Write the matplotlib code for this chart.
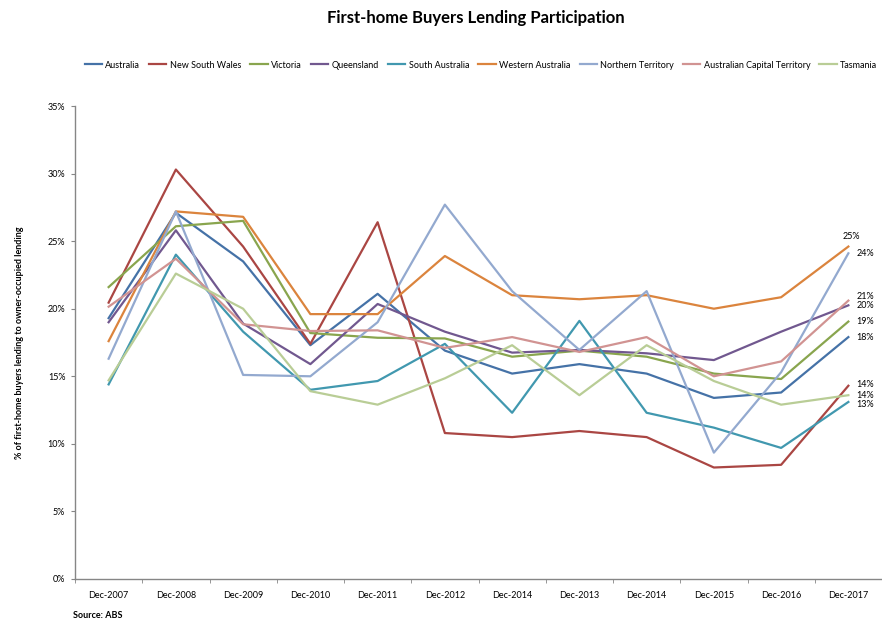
import matplotlib
matplotlib.use("Agg")
import matplotlib.pyplot as plt

plt.rcParams["font.family"] = ["Lato", "DejaVu Sans"]

# data (share of owner-occupied lending, %)
periods = ["Dec-2007", "Dec-2008", "Dec-2009", "Dec-2010", "Dec-2011", "Dec-2012",
           "Dec-2014", "Dec-2013", "Dec-2014", "Dec-2015", "Dec-2016", "Dec-2017"]

australia = [19.3, 27.1, 23.5, 17.3, 21.1, 16.9, 15.2, 15.9, 15.2, 13.4, 13.8, 17.9]
nsw = [20.45, 30.3, 24.6, 17.4, 26.4, 10.8, 10.5, 10.95, 10.5, 8.25, 8.45, 14.3]
victoria = [21.6, 26.1, 26.5, 18.2, 17.85, 17.8, 16.45, 16.9, 16.45, 15.2, 14.8, 19.05]
queensland = [19.0, 25.8, 18.9, 15.9, 20.35, 18.3, 16.75, 16.95, 16.7, 16.2, 18.3, 20.25]
sa = [14.4, 24.0, 18.3, 14.0, 14.65, 17.4, 12.3, 19.1, 12.3, 11.2, 9.7, 13.1]
wa = [17.6, 27.2, 26.8, 19.6, 19.6, 23.9, 21.0, 20.7, 21.0, 20.0, 20.85, 24.6]
nt = [16.3, 27.2, 15.1, 15.0, 19.0, 27.7, 21.3, 16.95, 21.3, 9.35, 15.3, 24.1]
act = [20.15, 23.7, 18.85, 18.35, 18.4, 17.1, 17.9, 16.8, 17.9, 15.0, 16.1, 20.6]
tasmania = [14.7, 22.6, 20.0, 13.9, 12.9, 14.85, 17.3, 13.6, 17.3, 14.65, 12.9, 13.6]

series = [
    ("Australia", australia, "#4572A7", (6, 0)),
    ("New South Wales", nsw, "#AA4643", (6, 1)),
    ("Victoria", victoria, "#89A54E", (6, 0)),
    ("Queensland", queensland, "#71588F", (6, 0)),
    ("South Australia", sa, "#4198AF", (6, -2)),
    ("Western Australia", wa, "#DB843D", None),
    ("Northern Territory", nt, "#93A9CF", (6, 0)),
    ("Australian Capital Territory", act, "#D19392", (6, 3)),
    ("Tasmania", tasmania, "#B9CD96", (6, 0)),
]

fig = plt.figure(figsize=(8.82, 6.21), dpi=100)
ax = fig.add_axes([75 / 882, 42 / 621, 807 / 882, 473 / 621])

x = list(range(len(periods)))
for name, vals, color, off in series:
    ax.plot(x, vals, color=color, lw=1.6, label=name)
    lab = "%d%%" % round(vals[-1])
    if off is None:
        ax.annotate(lab, (x[-1], vals[-1]), xytext=(2, 4), textcoords="offset points",
                    ha="center", va="bottom", fontsize=6.5, annotation_clip=False)
    else:
        ax.annotate(lab, (x[-1], vals[-1]), xytext=off, textcoords="offset points",
                    ha="left", va="center", fontsize=6.5, annotation_clip=False)

ax.set_xlim(-0.5, 11.4)
ax.set_ylim(0, 35)
ax.set_yticks(range(0, 36, 5))
ax.set_yticklabels(["%d%%" % v for v in range(0, 36, 5)], fontsize=6.5)
ax.set_xticks(x)
ax.set_xticklabels(periods, fontsize=6.5)
ax.set_xticks([i - 0.5 for i in range(len(periods) + 1)], minor=True)
ax.tick_params(axis="x", which="major", length=0, pad=9)
ax.tick_params(axis="x", which="minor", length=3, color="#868686")
ax.tick_params(axis="y", length=3, color="#868686", pad=4)

for s in ["top", "right"]:
    ax.spines[s].set_visible(False)
for s in ["left", "bottom"]:
    ax.spines[s].set_color("#868686")
    ax.spines[s].set_linewidth(1.0)

ax.set_ylabel("% of first-home buyers lending to owner-occupied lending",
              fontsize=6.5, fontweight="bold", labelpad=17)

fig.text(476 / 882, 1 - 18 / 621, "First-home Buyers Lending Participation",
         ha="center", va="center", fontsize=12, fontweight="bold")
fig.text(73 / 882, 1 - 615 / 621, "Source: ABS", ha="left", va="center",
         fontsize=6.5, fontweight="bold")

fig.legend(loc="center", bbox_to_anchor=(481 / 882, 1 - 65 / 621), ncol=9,
           frameon=False, fontsize=6.5, handlelength=1.9, columnspacing=1.0,
           handletextpad=0.4)

fig.savefig("out.png", dpi=100)
